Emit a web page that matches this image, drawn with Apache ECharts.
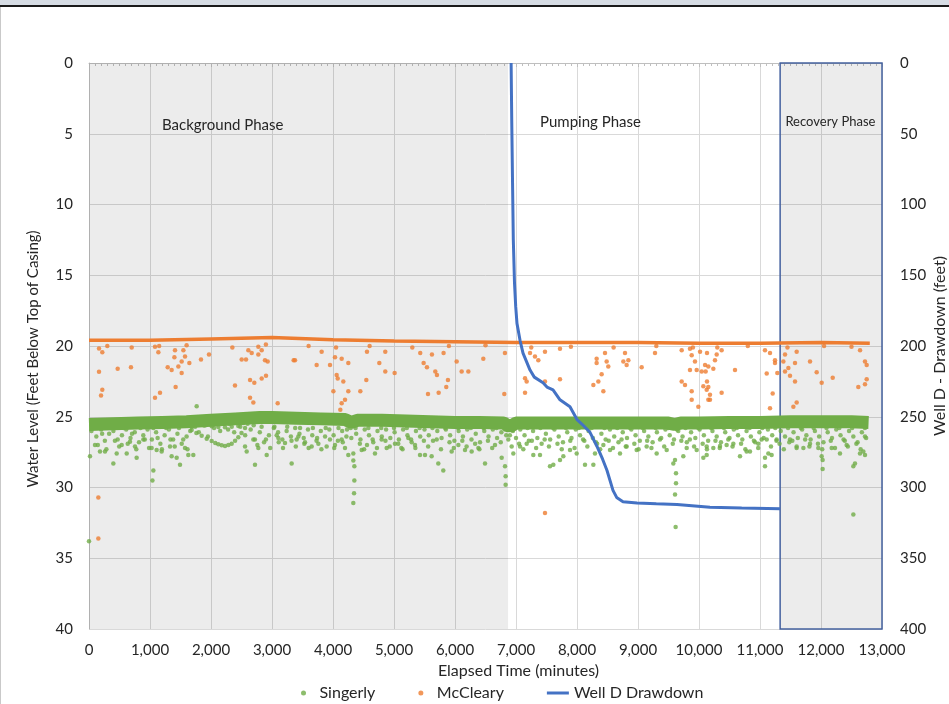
<!DOCTYPE html>
<html>
<head>
<meta charset="utf-8">
<script src="https://cdn.jsdelivr.net/npm/echarts@6/dist/echarts.min.js"></script>
<style>
html,body{margin:0;background:#fff;overflow:hidden;}
#main{position:absolute;left:0;top:0;width:949px;height:704px;}
.strip{position:absolute;left:0;top:0;width:949px;height:5px;background:#d6dce4;pointer-events:none;}
.rule{position:absolute;left:0;top:5px;width:949px;height:2px;background:#1a1a1a;pointer-events:none;}
.side{position:absolute;left:0;top:7px;width:1px;height:697px;background:#c9c9c9;pointer-events:none;}
</style>
</head>
<body>
<div id="main"></div>
<div class="strip"></div>
<div class="rule"></div>
<div class="side"></div>
<script>
// axis ranges / ticks
var timeTicks = [0, 13000, 1000];
var levelTicks = [0, 40, 5];
var drawdownTicks = [0, 400, 50];

// Singerly - dense band centre line (minutes, feet)
var singerlyBand = [[0,25.55],[400,25.5],[800,25.45],[1200,25.4],[1600,25.35],[2000,25.25],[2400,25.15],[2800,25.05],
  [3000,25.05],[3400,25.1],[3800,25.15],[4200,25.2],[4300,25.4],[4400,25.25],[4800,25.25],[5200,25.3],[5600,25.35],
  [6000,25.4],[6400,25.4],[6800,25.45],[6900,25.7],[7000,25.45],[7500,25.45],[8000,25.45],[8500,25.45],[9000,25.45],
  [9500,25.45],[9600,25.55],[9700,25.45],[10000,25.45],[10500,25.4],[11000,25.4],[11500,25.35],[12000,25.35],
  [12500,25.35],[12780,25.4]];

// Singerly - arcs just under the band
var singerlyArcs = [[40,26.0],[120,26.4],[200,25.9],[260,26.7],[330,26.2],[400,26.0],[470,26.6],[540,26.3],[610,25.9],
  [680,26.5],[750,26.1],[820,26.8],[890,26.3],[960,25.9],[1030,26.6],[1100,26.1],[1170,26.9],[1240,26.3],[1310,25.9],
  [1380,26.6],[1450,26.2],[1520,26.9],[1600,26.4],[1660,26.0],[1740,25.7],[1800,26.1],[1880,25.6],[1950,26.4],
  [2050,25.8],[2150,26.0],[2280,25.9],[2380,26.1],[2480,25.7],[2560,26.3],[2650,25.9],[2720,26.6],[2800,26.1],
  [2870,26.8],[2950,26.3],[3030,25.8],[3100,26.1],[3170,26.6],[3240,26.0],[3310,26.4],[3380,25.8],[3450,26.2],
  [3520,26.5],[3590,25.9],[3660,26.3],[3730,26.7],[3800,26.0],[3870,26.4],[3940,25.9],[4010,26.3],[4080,26.7],
  [4150,26.0],[4220,26.4],[4290,25.8],[4380,26.2],[4450,26.6],[4520,25.9],[4590,26.3],[4660,26.8],[4730,26.0],
  [4800,26.4],[4870,25.9],[4940,26.5],[5010,26.1],[5080,26.6],[5150,25.9],[5220,26.3],[5290,26.8],[5360,26.0],
  [5430,26.4],[5500,25.9],[5570,26.3],[5640,26.7],[5710,26.0],[5780,26.5],[5850,25.9],[5920,26.3],[5990,26.7],
  [6060,26.0],[6130,26.4],[6200,25.9],[6270,26.6],[6340,26.2],[6410,26.8],[6480,26.0],[6550,26.4],[6620,25.9],
  [6690,26.5],[6760,26.1],[6840,26.3],[6950,26.0],[7000,26.5],[7070,25.9],[7140,26.3],[7210,26.7],[7280,26.0],
  [7350,26.5],[7420,26.9],[7490,26.2],[7560,26.6],[7630,25.9],[7700,26.4],[7770,26.8],[7840,26.1],[7910,26.5],
  [7980,25.9],[8050,26.3],[8120,26.7],[8190,26.0],[8260,26.5],[8330,26.9],[8400,26.2],[8470,26.6],[8540,25.9],
  [8610,26.4],[8680,26.8],[8750,26.1],[8820,26.5],[8890,25.9],[8960,26.3],[9030,26.7],[9100,26.0],[9170,26.4],
  [9240,26.8],[9310,26.1],[9380,26.5],[9450,25.9],[9520,26.3],[9590,26.6],[9660,26.0],[9730,26.4],[9800,26.8],
  [9870,26.1],[9940,26.5],[10010,25.9],[10080,26.3],[10150,26.7],[10220,26.0],[10290,26.4],[10360,26.8],[10430,26.1],
  [10500,26.5],[10570,25.9],[10640,26.3],[10710,26.6],[10780,26.0],[10850,26.4],[10920,26.8],[10990,26.1],[11060,26.5],
  [11130,25.9],[11200,26.3],[11270,26.7],[11340,26.0],[11410,26.4],[11480,26.8],[11550,26.1],[11620,26.5],[11690,25.9],
  [11760,26.3],[11830,26.6],[11900,26.0],[11970,26.4],[12040,26.8],[12110,26.1],[12180,26.5],[12250,25.9],[12320,26.3],
  [12390,26.7],[12460,26.0],[12530,26.4],[12600,26.8],[12670,26.1],[12740,26.5]];

// Singerly - second layer of arcs (deeper rows)
var singerlyArcs2 = [[75,25.8],[145,27.0],[215,26.2],[285,27.3],[355,25.8],[425,26.7],[495,27.1],[565,25.8],[635,26.9],
  [705,26.2],[775,27.3],[845,25.8],[915,26.6],[985,27.2],[1055,25.8],[1125,26.5],[1195,27.3],[1265,25.8],[1335,26.6],
  [1405,27.1],[1475,25.8],[1545,26.6],[1615,27.3],[1685,25.7],[1850,25.5],[2000,25.5],[2150,25.5],[2300,25.5],
  [2450,25.4],[2700,25.6],[2760,27.0],[2830,25.7],[2900,26.6],[2970,27.2],[3040,25.7],[3110,26.8],[3180,27.2],
  [3250,25.7],[3320,26.7],[3390,27.1],[3460,25.8],[3530,26.9],[3600,27.2],[3670,25.8],[3740,26.5],[3810,27.3],
  [3880,25.8],[3950,26.6],[4020,27.2],[4090,25.8],[4160,26.8],[4230,25.9],[4300,26.5],[4370,25.8],[4440,26.9],
  [4510,27.3],[4580,25.8],[4650,26.6],[4720,27.2],[4790,25.8],[4860,26.7],[4930,27.1],[5000,25.8],[5070,26.9],
  [5140,27.3],[5210,25.8],[5280,26.6],[5350,27.2],[5420,25.8],[5490,26.7],[5560,27.1],[5630,25.8],[5700,26.6],
  [5770,27.3],[5840,25.8],[5910,26.8],[5980,27.2],[6050,25.8],[6120,26.7],[6190,27.1],[6260,25.8],[6330,26.9],
  [6400,27.3],[6470,25.8],[6540,26.7],[6610,27.2],[6680,25.8],[6750,26.8],[6820,25.9],[6900,26.3],[6980,25.8],
  [7050,26.9],[7120,27.3],[7190,25.8],[7260,26.7],[7330,27.2],[7400,25.8],[7470,26.6],[7540,27.1],[7610,25.8],
  [7680,26.9],[7750,27.3],[7820,25.8],[7890,26.7],[7960,27.2],[8030,25.8],[8100,26.6],[8170,27.1],[8240,25.8],
  [8310,26.8],[8380,27.3],[8450,25.8],[8520,26.7],[8590,27.2],[8660,25.8],[8730,26.6],[8800,27.1],[8870,25.8],
  [8940,26.9],[9010,27.3],[9080,25.8],[9150,26.7],[9220,27.2],[9290,25.8],[9360,26.6],[9430,27.1],[9500,25.8],
  [9570,26.9],[9640,25.9],[9710,26.7],[9780,25.8],[9850,26.6],[9920,27.1],[9990,25.8],[10060,26.9],[10130,27.3],
  [10200,25.8],[10270,26.7],[10340,27.2],[10410,25.8],[10480,26.6],[10550,27.1],[10620,25.8],[10690,26.9],
  [10760,27.3],[10830,25.8],[10900,26.7],[10970,27.2],[11040,25.8],[11110,26.6],[11180,27.1],[11250,25.8],
  [11320,26.9],[11390,27.3],[11460,25.8],[11530,26.7],[11600,27.2],[11670,25.8],[11740,26.6],[11810,27.1],
  [11880,25.8],[11950,26.9],[12020,27.3],[12090,25.8],[12160,26.7],[12230,27.2],[12300,25.8],[12370,26.6],
  [12440,27.1],[12510,25.8],[12580,26.9],[12650,27.3],[12720,25.8]];

// Singerly - the two dipping curves around 2,000 min
var singerlyValley = [[1683,25.94],[1760,26.15],[1847,26.35],[1930,26.55],[2011,26.72],[2070,26.85],[2120,26.95],
  [2175,27.02],[2230,27.06],[2285,27.0],[2339,26.9],[2395,26.7],[2448,26.45],[2500,26.15],[2558,25.8],[2600,25.5],
  [2640,25.3],[1792,25.55],[1900,25.62],[2011,25.68],[2120,25.72],[2230,25.75],[2340,25.7],[2448,25.65],[2530,25.45],
  [2612,25.25]];

// Singerly - sparse deeper readings
var singerlyLow = [[16,27.8],[98,27.0],[180,27.46],[262,27.46],[399,28.3],[454,27.6],[536,27.0],[618,27.6],[672,26.76],
  [754,27.1],[781,27.9],[891,26.6],[1027,27.2],[1055,28.8],[1040,29.5],[1109,27.35],[1191,27.46],[1328,27.1],[1355,27.8],
  [1437,27.9],[1492,28.4],[1574,27.2],[1628,27.7],[1710,27.7],[1765,24.25],[2558,27.1],[2585,27.46],[2694,26.6],
  [2721,28.4],[2776,27.2],[2913,27.7],[3077,26.3],[3104,26.5],[3213,26.85],[3322,28.3],[3404,26.6],[3432,26.4],
  [3541,26.8],[3650,27.1],[3760,26.9],[3896,27.1],[4033,27.0],[4142,26.6],[4197,27.2],[4251,27.7],[4333,27.6],
  [4333,28.1],[4350,28.5],[4350,29.5],[4345,30.4],[4333,31.1],[4470,27.35],[4557,27.0],[4688,27.6],[4797,26.6],
  [4880,27.2],[5016,26.9],[5120,27.2],[5235,26.5],[5344,27.0],[5426,27.7],[5508,27.7],[5617,27.8],[5726,28.3],
  [5808,28.8],[5945,27.46],[6055,27.0],[6164,27.35],[6273,27.46],[6383,27.2],[6492,28.3],[6656,27.0],[6765,27.9],
  [6820,28.5],[6830,29.2],[6830,29.8],[6874,26.6],[6929,27.1],[6956,27.6],[7066,27.1],[7175,26.9],[7284,27.7],
  [7393,27.7],[7557,28.5],[7612,28.4],[7721,28.06],[7776,27.8],[7885,27.35],[7995,27.6],[8131,28.4],[8268,28.4],
  [8295,27.6],[8432,27.0],[8541,27.35],[8705,27.6],[8814,27.1],[8978,27.35],[9142,27.1],[9306,27.6],[9470,27.35],
  [9579,28.3],[9607,28.06],[9623,29.0],[9623,29.7],[9607,30.5],[9617,32.8],[9743,27.8],[9798,27.2],[9962,27.35],
  [10126,27.1],[10071,27.9],[10126,27.7],[10235,27.2],[10344,27.06],[10453,27.0],[10563,26.9],[10672,27.8],
  [10781,27.46],[10836,27.46],[10972,26.9],[11027,26.6],[11082,27.9],[11082,28.5],[11137,27.6],[11191,27.7],
  [11273,26.6],[11492,26.6],[11601,27.1],[11711,27.2],[11820,26.9],[11956,27.2],[12011,27.8],[12027,28.06],
  [12027,28.7],[12175,27.2],[12311,27.6],[12420,27.0],[12530,28.5],[12557,28.3],[12639,27.6],[12694,27.46],
  [12721,27.7],[12721,26.4],[12530,31.9],[0,33.8]];

// McCleary - dense baseline
var mcclearyBase = [[0,19.6],[1000,19.6],[2000,19.5],[3000,19.4],[4000,19.55],[5000,19.65],[6000,19.7],[7000,19.75],
  [8000,19.75],[9000,19.75],[10000,19.8],[11000,19.8],[12000,19.75],[12800,19.8]];

// McCleary - scattered readings below the baseline
var mcclearyDots = [[164,20.17],[218,20.45],[164,21.82],[218,23.1],[197,23.5],[470,21.6],[688,21.5],[1082,20.05],
  [1137,20.45],[1410,20.3],[1547,20.3],[1574,20.75],[1400,20.8],[1519,21.1],[1645,21.2],[1290,21.5],[1355,21.7],
  [1465,21.45],[1519,21.9],[1420,22.9],[1164,23.3],[1082,23.65],[1836,20.95],[1967,20.6],[2393,22.8],[2503,20.95],
  [2574,20.95],[2612,20.3],[2667,20.5],[2776,20.6],[2885,21.0],[2929,21.1],[2831,20.3],[2776,20.05],[2640,22.4],
  [2710,22.6],[2831,22.3],[2902,22.1],[2640,23.65],[2694,24.0],[3093,24.05],[3355,21.0],[153,30.7],[153,33.6],
  [3377,21.0],[3732,21.35],[3814,20.4],[3951,21.35],[4033,20.8],[4060,22.05],[4077,22.3],[4142,20.9],[4169,22.5],
  [4251,21.2],[4006,23.2],[4251,23.2],[4197,23.8],[4142,24.05],[4120,24.5],[4448,23.2],[4546,22.4],[4557,20.4],
  [4759,21.2],[4857,20.4],[4857,21.8],[5010,21.9],[5430,20.5],[5486,21.2],[5540,21.5],[5622,20.6],[5677,21.8],
  [5704,22.05],[5813,20.5],[5884,22.4],[5857,22.9],[5732,23.3],[5557,23.4],[6027,21.1],[6109,21.8],[6219,21.8],
  [6464,20.9],[6819,20.5],[6808,23.4],[7148,22.28],[7175,22.5],[7148,23.3],[7230,20.5],[7311,20.75],[7366,21.0],
  [7475,20.4],[7721,20.2],[7475,22.5],[7721,22.35],[7475,31.8],[8268,22.75],[8350,22.5],[8432,23.2],[8322,20.9],
  [8322,21.2],[8459,20.5],[8486,21.1],[8513,21.45],[8404,22.0],[8760,21.1],[8814,21.35],[8842,21.0],[8787,20.5],
  [9060,21.5],[9279,20.5],[9716,20.3],[9716,22.5],[9771,22.75],[9852,20.2],[9880,20.65],[9934,21.1],[9852,21.7],
  [9962,21.7],[9880,23.2],[9880,23.8],[9989,24.3],[10044,21.8],[10071,22.85],[10099,21.35],[10126,23.1],[10153,23.8],
  [10017,20.4],[10131,20.5],[10153,21.45],[10109,21.8],[10131,22.5],[10153,22.9],[10180,23.45],[10180,23.8],
  [10262,21.0],[10290,20.6],[10235,21.6],[10371,20.3],[10371,23.3],[10590,21.7],[11082,20.3],[11110,21.95],
  [11164,20.5],[11208,23.35],[11164,24.4],[11246,21.0],[11246,21.2],[11284,21.9],[11410,20.6],[11383,21.1],
  [11410,21.8],[11465,21.55],[11492,22.1],[11574,21.2],[11574,22.5],[11601,24.0],[11547,24.3],[11601,20.4],
  [11820,21.1],[11929,21.85],[12011,22.6],[12192,22.25],[12612,22.9],[12721,22.7],[12749,22.35],[12721,21.1],
  [12749,21.35],[12640,20.3],[300,20.0],[700,20.1],[1150,20.0],[1600,19.95],[2350,20.1],[2900,19.9],[3600,20.0],
  [4050,20.1],[4600,20.0],[5300,20.1],[5900,20.0],[6500,19.95],[7250,20.1],[7900,20.05],[8600,20.1],[9300,20.0],
  [9900,20.1],[10300,20.1],[10800,20.0],[11450,20.1],[12050,20.0],[12500,20.05]];

// Well D drawdown
var drawdownTime = [6920,6930,6945,6956,6975,6995,7016,7066,7115,7230,7300,7443,7508,7607,7721,7885,8000,8100,
  8213,8328,8420,8492,8590,8650,8754,8984,9300,9639,10180,10700,11328];
var drawdownFeet = [0,40,90,125,155,172,184,196,205,217,222,226,229,231,238,243,252,256,261,271,280,288,302,307,
  310,311,311.5,312,314,314.5,315];

// phase boundaries (minutes)
var phaseNames = ['Background Phase', 'Pumping Phase', 'Recovery Phase'];
var phaseBounds = [0, 6870, 11330, 13000];

var FONT = 'Lato';
var txt = '#262626';
var grayFill = 'rgba(0,0,0,0.075)';

var myChart = echarts.init(document.getElementById('main'));

myChart.setOption({
  backgroundColor: '#fff',
  textStyle: { fontFamily: FONT },
  animation: false,
  grid: { left: 89, right: 67, top: 63, bottom: 75, outerBoundsMode: 'none', containLabel: false },
  legend: {
    data: [
      'Singerly',
      'McCleary',
      { name: 'Well D Drawdown', icon: 'path://M0,0H22V3H0Z', itemStyle: { color: '#4472c4' } }
    ],
    left: 296, top: 680,
    itemWidth: 22, itemHeight: 5, itemGap: 43,
    textStyle: { color: txt, fontSize: 16, fontFamily: FONT }
  },
  xAxis: [
    {
      type: 'value', position: 'bottom',
      min: timeTicks[0], max: timeTicks[1], interval: timeTicks[2],
      name: 'Elapsed Time (minutes)', nameLocation: 'middle', nameGap: 34,
      nameTextStyle: { color: txt, fontSize: 16, padding: [0, 0, 0, 66] },
      axisLine: { show: false }, axisTick: { show: false },
      axisLabel: { color: txt, fontSize: 15, margin: 14,
        formatter: function (v) { return v.toLocaleString('en-US'); } },
      splitLine: { show: true, lineStyle: { color: '#d9d9d9', width: 1 } }
    },
    {
      type: 'value', position: 'top',
      min: timeTicks[0], max: timeTicks[1], interval: timeTicks[2],
      axisLine: { show: true, lineStyle: { color: '#bfbfbf' } },
      axisTick: { show: true, inside: true, length: 4, lineStyle: { color: '#bfbfbf' } },
      minorTick: { show: true, splitNumber: 10, length: 3, lineStyle: { color: '#bfbfbf' } },
      axisLabel: { show: false }, splitLine: { show: false }
    }
  ],
  yAxis: [
    {
      type: 'value', inverse: true, position: 'left',
      min: levelTicks[0], max: levelTicks[1], interval: levelTicks[2],
      name: 'Water Level (Feet Below Top of Casing)', nameLocation: 'middle', nameGap: 48, nameRotate: 90,
      nameTextStyle: { color: txt, fontSize: 15, padding: [0, 26, 0, 0] },
      axisLine: { show: true, lineStyle: { color: '#bfbfbf' } }, axisTick: { show: false },
      axisLabel: { color: txt, fontSize: 15, margin: 16 },
      splitLine: { show: true, lineStyle: { color: '#d9d9d9', width: 1 } }
    },
    {
      type: 'value', inverse: true, position: 'right',
      min: drawdownTicks[0], max: drawdownTicks[1], interval: drawdownTicks[2],
      name: 'Well D - Drawdown (feet)', nameLocation: 'middle', nameGap: 50, nameRotate: 90,
      nameMoveOverlap: false,
      nameTextStyle: { color: txt, fontSize: 16 },
      axisLine: { show: false }, axisTick: { show: false },
      axisLabel: { color: txt, fontSize: 15, margin: 18 },
      splitLine: { show: false }
    }
  ],
  series: [
    {
      name: 'Singerly band', type: 'line', data: singerlyBand, showSymbol: false, silent: true,
      lineStyle: { color: '#70ad47', width: 13 },
      markArea: {
        silent: true,
        label: { show: true, color: txt, fontSize: 15, fontFamily: FONT, formatter: '{b}' },
        data: [
          [{ name: phaseNames[0], xAxis: phaseBounds[0], itemStyle: { color: grayFill },
             label: { position: [73, 55] } }, { xAxis: phaseBounds[1] }],
          [{ name: phaseNames[1], xAxis: phaseBounds[1], itemStyle: { color: 'rgba(0,0,0,0)' },
             label: { position: [32, 52] } }, { xAxis: phaseBounds[2] }],
          [{ name: phaseNames[2], xAxis: phaseBounds[2],
             itemStyle: { color: grayFill, borderColor: '#44619f', borderWidth: 1.5 },
             label: { position: [6, 53], fontSize: 13 } }, { xAxis: phaseBounds[3] }]
        ]
      }
    },
    {
      name: 'Singerly', type: 'scatter', symbol: 'circle', symbolSize: 4.5,
      data: singerlyArcs.concat(singerlyArcs2, singerlyValley, singerlyLow),
      itemStyle: { color: '#70ad47' }
    },
    {
      name: 'McCleary band', type: 'line', data: mcclearyBase, showSymbol: false, silent: true,
      lineStyle: { color: '#ed7d31', width: 3.5 }
    },
    {
      name: 'McCleary', type: 'scatter', symbol: 'circle', symbolSize: 4.5,
      data: mcclearyDots, itemStyle: { color: '#ed7d31' }
    },
    {
      name: 'Well D Drawdown', type: 'line', yAxisIndex: 1, symbol: 'none',
      data: drawdownTime.map(function (t, i) { return [t, drawdownFeet[i]]; }),
      lineStyle: { color: '#4472c4', width: 3 }
    }
  ]
});
</script>
</body>
</html>
